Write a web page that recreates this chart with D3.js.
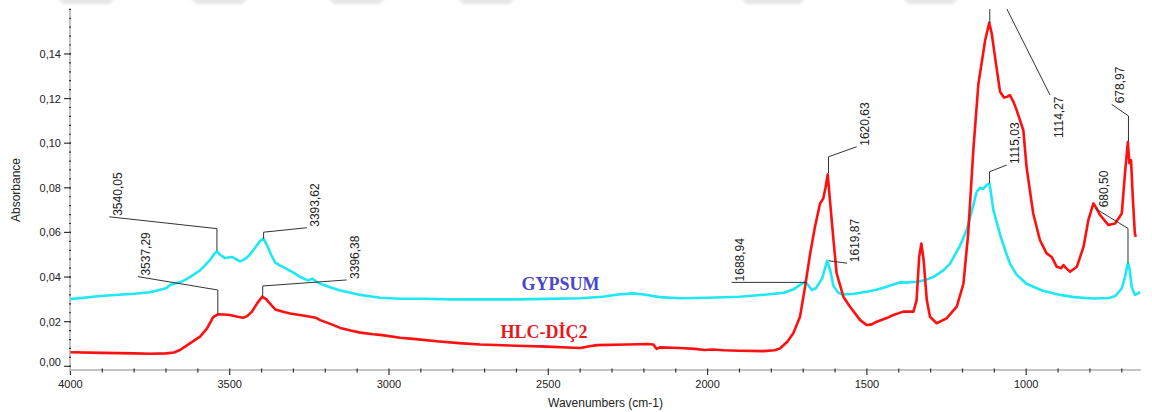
<!DOCTYPE html>
<html>
<head>
<meta charset="utf-8">
<script src="https://cdn.jsdelivr.net/npm/d3@7"></script>
<style>
  html, body { margin: 0; padding: 0; background: #ffffff; }
  svg { display: block; }
</style>
</head>
<body>
<svg id="chart" width="1152" height="412"></svg>
<script>
// ---------------- DATA ----------------
const gypsumWavenumbers = [4000,3906,3800,3750,3700,3687,3650,3625,3593,3562,3546,3540,3530,3515,3493,3480,3468,3455,3440,3421,3405,3394,3382,3370,3357,3340,3326,3300,3278,3255,3240,3228,3216,3180,3153,3120,3090,3050,3027,2965,2900,2800,2700,2600,2500,2400,2330,2280,2234,2200,2150,2087,2000,1900,1814,1760,1730,1710,1692,1680,1673,1660,1640,1625,1615,1605,1590,1575,1540,1501,1470,1438,1410,1396,1380,1344,1320,1292,1260,1239,1208,1187,1170,1156,1145,1135,1122,1115,1103,1082,1066,1051,1030,999,950,894,850,790,740,720,700,690,683,680,676,669,659,650,643];
const gypsumAbsorbance = [0.0301,0.0315,0.0325,0.0332,0.0350,0.0364,0.0380,0.0400,0.0430,0.0476,0.0508,0.0515,0.0500,0.0485,0.0490,0.0480,0.0470,0.0478,0.0495,0.0530,0.0562,0.0572,0.0540,0.0500,0.0465,0.0450,0.0440,0.0420,0.0400,0.0385,0.0392,0.0380,0.0370,0.0352,0.0340,0.0330,0.0320,0.0312,0.0307,0.0303,0.0303,0.0300,0.0300,0.0300,0.0302,0.0305,0.0312,0.0322,0.0327,0.0322,0.0310,0.0305,0.0307,0.0312,0.0322,0.0330,0.0345,0.0365,0.0378,0.0355,0.0342,0.0350,0.0395,0.0473,0.0430,0.0360,0.0330,0.0322,0.0325,0.0334,0.0343,0.0357,0.0370,0.0376,0.0375,0.0379,0.0385,0.0400,0.0430,0.0460,0.0540,0.0610,0.0700,0.0780,0.0800,0.0795,0.0815,0.0818,0.0700,0.0590,0.0520,0.0460,0.0410,0.0370,0.0340,0.0320,0.0310,0.0304,0.0306,0.0315,0.0350,0.0400,0.0450,0.0462,0.0440,0.0357,0.0320,0.0325,0.0334];

const hlcWavenumbers = [4000,3900,3800,3750,3700,3675,3656,3640,3625,3593,3571,3552,3537,3520,3499,3475,3458,3445,3430,3414,3398,3385,3370,3357,3330,3310,3280,3247,3230,3216,3180,3153,3120,3090,3050,3027,2965,2924,2850,2780,2714,2600,2505,2420,2400,2370,2348,2250,2191,2170,2160,2150,2087,2040,2010,1983,1950,1900,1826,1790,1773,1750,1731,1710,1694,1678,1663,1647,1637,1630,1623,1616,1605,1595,1574,1553,1521,1501,1485,1469,1440,1417,1386,1354,1344,1336,1329,1322,1312,1302,1281,1250,1218,1197,1182,1166,1150,1140,1129,1116,1108,1098,1082,1070,1061,1051,1040,1030,1009,999,978,957,936,920,904,890,883,875,862,841,820,805,789,780,768,742,721,700,690,681,676,671,665,659,656];
const hlcAbsorbance = [0.0063,0.0060,0.0058,0.0056,0.0058,0.0062,0.0073,0.0088,0.0103,0.0133,0.0170,0.0220,0.0233,0.0232,0.0230,0.0222,0.0218,0.0225,0.0245,0.0282,0.0312,0.0300,0.0275,0.0255,0.0243,0.0237,0.0230,0.0222,0.0218,0.0207,0.0188,0.0172,0.0160,0.0151,0.0144,0.0141,0.0128,0.0123,0.0112,0.0104,0.0098,0.0092,0.0088,0.0083,0.0082,0.0090,0.0095,0.0098,0.0100,0.0098,0.0078,0.0085,0.0082,0.0078,0.0073,0.0075,0.0072,0.0070,0.0068,0.0072,0.0080,0.0110,0.0148,0.0222,0.0357,0.0506,0.0625,0.0730,0.0752,0.0800,0.0860,0.0745,0.0566,0.0417,0.0312,0.0267,0.0207,0.0185,0.0188,0.0200,0.0215,0.0230,0.0245,0.0245,0.0297,0.0490,0.0550,0.0476,0.0297,0.0222,0.0193,0.0215,0.0267,0.0370,0.0596,0.0969,0.1267,0.1357,0.1460,0.1540,0.1490,0.1387,0.1230,0.1205,0.1207,0.1215,0.1185,0.1148,0.1058,0.0894,0.0685,0.0566,0.0506,0.0490,0.0446,0.0440,0.0454,0.0440,0.0424,0.0446,0.0536,0.0655,0.0730,0.0710,0.0678,0.0633,0.0640,0.0685,0.0864,0.1005,0.0910,0.0924,0.0745,0.0596,0.0580];

const seriesNames = ["GYPSUM", "HLC-DİÇ2"];

// Peak annotations (data units): peak, elbow absorbance, leader end
const peakLabels      = ["3540,05","3393,62","3537,29","3396,38","1688,94","1619,87","1620,63","1115,03","1114,27","678,97","680,50"];
const peakWavenumber  = [3540.05, 3393.62, 3537.29, 3396.38, 1688.94, 1619.87, 1620.63, 1115.03, 1114.27, 678.97, 680.50];
const peakAbsorbance  = [0.0518, 0.0571, 0.0234, 0.0315, 0.0376, 0.0473, 0.0865, 0.0820, 0.1540, 0.1007, 0.0462];
const elbowAbsorbance = [0.0617, 0.0601, 0.0342, 0.0360, 0.0376, 0.0473, 0.0939, 0.0872, 0.1754, 0.1122, 0.0618];
const endWavenumber   = [3877.9, 3258.3, 3788.8, 3132.8, 1924.4, 1562.5, 1532.0, 1061.2, 925.3, 731.6, 784.0];
const endAbsorbance   = [0.0670, 0.0621, 0.0402, 0.0387, 0.0376, 0.0462, 0.0984, 0.0902, 0.1216, 0.1174, 0.0708];
const labelAtTop      = [false, false, false, false, false, false, false, false, true, false, false];

const yTickValues = [0, 0.02, 0.04, 0.06, 0.08, 0.10, 0.12, 0.14];
const xTickValues = [4000, 3500, 3000, 2500, 2000, 1500, 1000];

// ---------------- LAYOUT ----------------
const svg = d3.select("#chart");
const x = d3.scaleLinear().domain([4000, 640]).range([70.4, 1140.9]);
const y = d3.scaleLinear().domain([0, 0.16]).range([366.3, 9.3]);
const axisY = 370;
const font = "'Liberation Sans', Arial, sans-serif";

// faint header shadows at the very top
const defs = svg.append("defs");
const blur = defs.append("filter").attr("id", "blur").attr("x", "-50%").attr("y", "-200%").attr("width", "200%").attr("height", "500%");
blur.append("feGaussianBlur").attr("stdDeviation", 1.8);
defs.append("clipPath").attr("id", "plotClip").append("rect")
  .attr("x", 70).attr("y", 9).attr("width", 1075).attr("height", 365);

[[57,110],[190,242],[328,380],[457,510],[740,800],[903,953]].forEach(([a, b]) => {
  svg.append("path")
    .attr("d", `M${a},-2 L${b+6},-2 L${b},4 L${a+6},4 Z`)
    .attr("fill", "#e6e6e6").attr("filter", "url(#blur)");
});

// ---------------- AXES ----------------
// x axis
svg.append("line").attr("x1", 70).attr("x2", x(640)).attr("y1", axisY).attr("y2", axisY)
  .attr("stroke", "#c4c4c4").attr("stroke-width", 2);
const minorX = d3.range(4000, 640, -100);
svg.append("g").selectAll("line").data(minorX).join("line")
  .attr("x1", d => x(d)).attr("x2", d => x(d))
  .attr("y1", axisY - 1.5).attr("y2", d => d % 500 === 0 ? axisY + 5 : axisY + 2.5)
  .attr("stroke", "#333").attr("stroke-width", 1.2);
svg.append("g").selectAll("text").data(xTickValues).join("text")
  .attr("x", d => x(d)).attr("y", 388)
  .attr("text-anchor", "middle").attr("font-family", font).attr("font-size", 11)
  .attr("fill", "#222").text(d => d);
svg.append("text").attr("x", 605.5).attr("y", 407).attr("text-anchor", "middle")
  .attr("font-family", font).attr("font-size", 12).attr("fill", "#222")
  .text("Wavenumbers (cm-1)");

// y axis
svg.append("line").attr("x1", 70).attr("x2", 70).attr("y1", 9).attr("y2", axisY + 1)
  .attr("stroke", "#c4c4c4").attr("stroke-width", 2);
const minorY = d3.range(0, 0.1601, 0.004);
svg.append("g").selectAll("line").data(minorY).join("line")
  .attr("x1", 69).attr("x2", 71)
  .attr("y1", d => y(d)).attr("y2", d => y(d))
  .attr("stroke", "#333").attr("stroke-width", 1.2);
svg.append("g").selectAll("line").data(yTickValues).join("line")
  .attr("x1", 64).attr("x2", 71)
  .attr("y1", d => y(d)).attr("y2", d => y(d))
  .attr("stroke", "#333").attr("stroke-width", 1.2);
svg.append("g").selectAll("text").data(yTickValues).join("text")
  .attr("x", 61).attr("y", d => (d === 0 ? y(d) - 4.5 : y(d)) + 4)
  .attr("text-anchor", "end").attr("font-family", font).attr("font-size", 11)
  .attr("fill", "#222").text(d => d3.format(".2f")(d).replace(".", ","));
svg.append("text").attr("transform", "translate(20,190) rotate(-90)")
  .attr("text-anchor", "middle").attr("font-family", font).attr("font-size", 12)
  .attr("fill", "#222").text("Absorbance");

// ---------------- SERIES ----------------
const plot = svg.append("g").attr("clip-path", "url(#plotClip)");
const line = d3.line().x(d => x(d[0])).y(d => y(d[1]));
const gypsum = gypsumWavenumbers.map((w, i) => [w, gypsumAbsorbance[i]]);
const hlc = hlcWavenumbers.map((w, i) => [w, hlcAbsorbance[i]]);

plot.append("path").datum(gypsum).attr("d", line)
  .attr("fill", "none").attr("stroke", "#1ee8f2").attr("stroke-width", 2.6).attr("stroke-linejoin", "round");
plot.append("path").datum(hlc).attr("d", line)
  .attr("fill", "none").attr("stroke", "#ff1010").attr("stroke-width", 2.6).attr("stroke-linejoin", "round");

// ---------------- ANNOTATIONS ----------------
peakLabels.forEach((lab, i) => {
  const px = x(peakWavenumber[i]), py = y(peakAbsorbance[i]);
  const ey = y(elbowAbsorbance[i]);
  const tx = x(endWavenumber[i]), ty = y(endAbsorbance[i]);
  plot.append("path")
    .attr("d", `M${px},${py} L${px},${ey} L${tx},${ty}`)
    .attr("fill", "none").attr("stroke", "#333").attr("stroke-width", 1);
  const lx = tx + 12.5;
  const ly = labelAtTop[i] ? ty + 1.5 : ty - 1;
  svg.append("text")
    .attr("transform", `translate(${lx},${ly}) rotate(-90)`)
    .attr("text-anchor", labelAtTop[i] ? "end" : "start")
    .attr("font-family", font).attr("font-size", 12).attr("fill", "#222")
    .text(lab);
});

// ---------------- SERIES LABELS ----------------
svg.append("text").attr("x", 521.5).attr("y", 290)
  .attr("font-family", "'Liberation Serif', 'Times New Roman', serif").attr("font-weight", "bold")
  .attr("font-size", 18).attr("fill", "#4646cf").text(seriesNames[0]);
svg.append("text").attr("x", 500.5).attr("y", 337.5)
  .attr("font-family", "'Liberation Serif', 'Times New Roman', serif").attr("font-weight", "bold")
  .attr("font-size", 18).attr("fill", "#e8191c").text(seriesNames[1]);
</script>
</body>
</html>
